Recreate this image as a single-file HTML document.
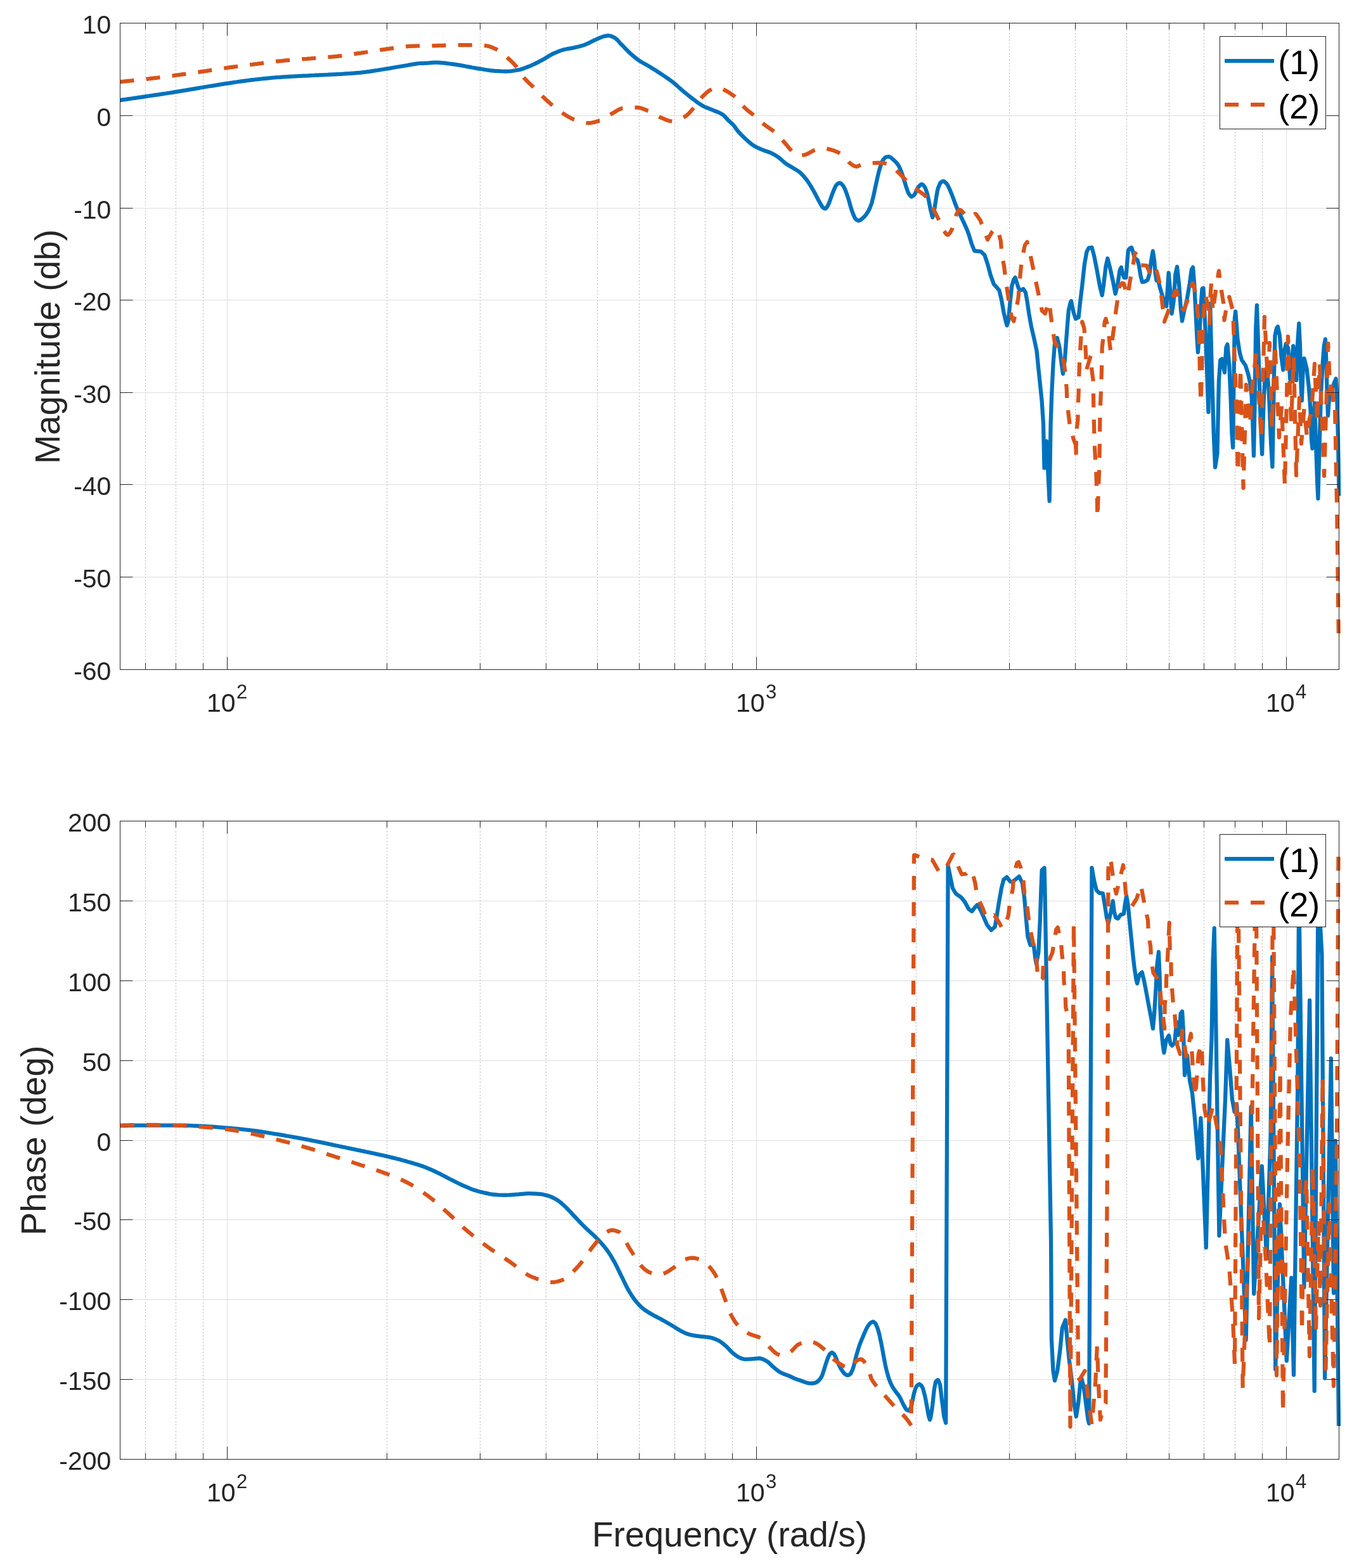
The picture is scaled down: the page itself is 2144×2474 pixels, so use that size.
<!DOCTYPE html>
<html lang="en"><head><meta charset="utf-8"><title>Bode plot</title>
<style>
html,body{margin:0;padding:0;background:#fff}
body{width:2144px;height:2474px;overflow:hidden}
svg{display:block;font-family:"Liberation Sans",Arial,Helvetica,sans-serif}
</style></head><body>
<svg width="2144" height="2474" viewBox="0 0 2144 2474">
<defs>
<clipPath id="c36"><rect x="186.5" y="33.5" width="1929.0" height="1026.0"/></clipPath>
<clipPath id="c1295"><rect x="186.5" y="1292.5" width="1929.0" height="1013.0"/></clipPath>
</defs>
<rect width="2144" height="2474" fill="#fff"/>
<line x1="229.5" y1="36.5" x2="229.5" y2="1056.5" stroke="#b9b9b9" stroke-width="1" stroke-dasharray="2.2 3"/>
<line x1="277.5" y1="36.5" x2="277.5" y2="1056.5" stroke="#b9b9b9" stroke-width="1" stroke-dasharray="2.2 3"/>
<line x1="320.5" y1="36.5" x2="320.5" y2="1056.5" stroke="#b9b9b9" stroke-width="1" stroke-dasharray="2.2 3"/>
<line x1="610.5" y1="36.5" x2="610.5" y2="1056.5" stroke="#b9b9b9" stroke-width="1" stroke-dasharray="2.2 3"/>
<line x1="757.5" y1="36.5" x2="757.5" y2="1056.5" stroke="#b9b9b9" stroke-width="1" stroke-dasharray="2.2 3"/>
<line x1="861.5" y1="36.5" x2="861.5" y2="1056.5" stroke="#b9b9b9" stroke-width="1" stroke-dasharray="2.2 3"/>
<line x1="942.5" y1="36.5" x2="942.5" y2="1056.5" stroke="#b9b9b9" stroke-width="1" stroke-dasharray="2.2 3"/>
<line x1="1008.5" y1="36.5" x2="1008.5" y2="1056.5" stroke="#b9b9b9" stroke-width="1" stroke-dasharray="2.2 3"/>
<line x1="1064.5" y1="36.5" x2="1064.5" y2="1056.5" stroke="#b9b9b9" stroke-width="1" stroke-dasharray="2.2 3"/>
<line x1="1112.5" y1="36.5" x2="1112.5" y2="1056.5" stroke="#b9b9b9" stroke-width="1" stroke-dasharray="2.2 3"/>
<line x1="1155.5" y1="36.5" x2="1155.5" y2="1056.5" stroke="#b9b9b9" stroke-width="1" stroke-dasharray="2.2 3"/>
<line x1="1445.5" y1="36.5" x2="1445.5" y2="1056.5" stroke="#b9b9b9" stroke-width="1" stroke-dasharray="2.2 3"/>
<line x1="1592.5" y1="36.5" x2="1592.5" y2="1056.5" stroke="#b9b9b9" stroke-width="1" stroke-dasharray="2.2 3"/>
<line x1="1696.5" y1="36.5" x2="1696.5" y2="1056.5" stroke="#b9b9b9" stroke-width="1" stroke-dasharray="2.2 3"/>
<line x1="1777.5" y1="36.5" x2="1777.5" y2="1056.5" stroke="#b9b9b9" stroke-width="1" stroke-dasharray="2.2 3"/>
<line x1="1844.5" y1="36.5" x2="1844.5" y2="1056.5" stroke="#b9b9b9" stroke-width="1" stroke-dasharray="2.2 3"/>
<line x1="1899.5" y1="36.5" x2="1899.5" y2="1056.5" stroke="#b9b9b9" stroke-width="1" stroke-dasharray="2.2 3"/>
<line x1="1948.5" y1="36.5" x2="1948.5" y2="1056.5" stroke="#b9b9b9" stroke-width="1" stroke-dasharray="2.2 3"/>
<line x1="1991.5" y1="36.5" x2="1991.5" y2="1056.5" stroke="#b9b9b9" stroke-width="1" stroke-dasharray="2.2 3"/>
<line x1="358.5" y1="36.5" x2="358.5" y2="1056.5" stroke="#dedede" stroke-width="1"/>
<line x1="1193.5" y1="36.5" x2="1193.5" y2="1056.5" stroke="#dedede" stroke-width="1"/>
<line x1="2029.5" y1="36.5" x2="2029.5" y2="1056.5" stroke="#dedede" stroke-width="1"/>
<line x1="189.5" y1="182.5" x2="2112.5" y2="182.5" stroke="#dedede" stroke-width="1"/>
<line x1="189.5" y1="328.5" x2="2112.5" y2="328.5" stroke="#dedede" stroke-width="1"/>
<line x1="189.5" y1="473.5" x2="2112.5" y2="473.5" stroke="#dedede" stroke-width="1"/>
<line x1="189.5" y1="619.5" x2="2112.5" y2="619.5" stroke="#dedede" stroke-width="1"/>
<line x1="189.5" y1="764.5" x2="2112.5" y2="764.5" stroke="#dedede" stroke-width="1"/>
<line x1="189.5" y1="910.5" x2="2112.5" y2="910.5" stroke="#dedede" stroke-width="1"/>
<g clip-path="url(#c36)" fill="none" stroke-linejoin="round">
<path d="M189.5 158.1 L192.5 157.6 L195.5 157.2 L198.5 156.8 L201.5 156.3 L204.5 155.9 L207.5 155.5 L210.5 155 L213.5 154.6 L216.5 154.2 L219.5 153.7 L222.5 153.3 L225.5 152.8 L228.5 152.4 L229.7 152.2 L231.5 151.9 L234.5 151.5 L237.5 151 L240.5 150.6 L243.5 150.2 L246.5 149.7 L249.5 149.3 L252.5 148.8 L255.5 148.4 L258.5 147.9 L261.5 147.5 L264.5 147 L267.5 146.5 L270.5 146.1 L273.5 145.6 L276.5 145.1 L277.7 145 L279.5 144.7 L282.5 144.2 L285.5 143.7 L288.5 143.2 L291.5 142.7 L294.5 142.1 L297.5 141.6 L300.6 141.1 L303.6 140.6 L306.6 140.1 L309.6 139.6 L312.6 139.1 L315.6 138.5 L318.6 138 L320.6 137.7 L321.6 137.5 L324.6 137 L327.6 136.5 L330.6 136 L333.6 135.6 L336.6 135.1 L339.6 134.6 L342.6 134.1 L345.6 133.6 L348.6 133.1 L351.6 132.6 L354.6 132.2 L357.6 131.7 L358.6 131.6 L360.6 131.3 L363.6 130.8 L366.6 130.4 L369.6 129.9 L372.6 129.5 L375.6 129 L378.6 128.6 L381.6 128.2 L384.6 127.8 L387.6 127.4 L390.6 127 L393.6 126.6 L396.6 126.2 L399.6 125.8 L402.6 125.5 L403.2 125.4 L405.6 125.2 L408.6 124.8 L411.6 124.5 L414.6 124.2 L417.6 123.9 L420.6 123.6 L423.6 123.3 L426.6 123 L429.6 122.7 L432.6 122.5 L435.6 122.2 L438.6 122 L441.6 121.8 L444.6 121.5 L445.1 121.5 L447.6 121.3 L450.6 121.2 L453.6 121 L456.6 120.8 L459.6 120.6 L462.6 120.5 L465.6 120.3 L468.7 120.2 L471.7 120 L474.7 119.9 L477.7 119.7 L480.7 119.6 L483.7 119.5 L486.7 119.3 L489.7 119.1 L492.7 119 L495.7 118.9 L498.7 118.7 L501.7 118.6 L504.7 118.4 L507.7 118.3 L510.7 118.2 L513.7 118 L516.7 117.9 L519.7 117.7 L522.7 117.6 L525.7 117.4 L528.7 117.3 L531.7 117.1 L534.7 117 L537.7 116.8 L540.7 116.6 L542.7 116.5 L543.7 116.4 L546.7 116.2 L549.7 116 L552.7 115.8 L555.7 115.6 L558.7 115.4 L561.7 115.1 L564.7 114.8 L567.7 114.6 L570.6 114.3 L573.7 113.9 L576.7 113.6 L579.7 113.2 L582.7 112.8 L585.7 112.3 L588.7 111.9 L591.7 111.4 L594.7 111 L597.7 110.5 L600.7 110 L603.7 109.5 L606.7 109 L609.7 108.5 L610.5 108.4 L612.7 108.1 L615.7 107.6 L618.7 107 L621.7 106.5 L624.7 106 L627.7 105.5 L630.7 105 L633.7 104.5 L636.7 104 L639.8 103.5 L640.4 103.4 L642.8 103 L645.8 102.4 L648.8 101.9 L651.8 101.3 L654.8 100.8 L657.8 100.3 L660.8 100 L663.8 99.8 L665.5 99.8 L666.8 99.8 L668.4 99.8 L669.8 99.7 L672.8 99.6 L675.8 99.4 L678.8 99.1 L681.8 98.9 L684.8 98.7 L687.8 98.6 L690.8 98.7 L693.8 98.8 L696.8 99.1 L699.8 99.4 L702.8 99.7 L705.8 100.1 L708.8 100.5 L711.8 100.9 L714.8 101.3 L715.8 101.4 L717.8 101.7 L720.8 102.1 L723.8 102.6 L726.8 103.1 L729.8 103.6 L732.8 104.2 L735.8 104.8 L738.8 105.3 L741.8 105.9 L744.8 106.5 L747.8 107 L750.8 107.6 L753.8 108.1 L756.8 108.6 L757.7 108.7 L759.8 109 L762.8 109.5 L765.8 110 L768.8 110.5 L771.8 110.9 L774.8 111.3 L777.8 111.6 L780.8 111.9 L782.8 112 L783.8 112.1 L786.8 112.2 L789.8 112.4 L792.8 112.5 L795.8 112.6 L798.8 112.6 L799.5 112.6 L801.8 112.5 L804.8 112.3 L807.8 112 L810.9 111.5 L813.9 111 L816.2 110.6 L816.9 110.5 L819.9 109.9 L822.9 109 L825.9 108 L828.9 106.9 L831.9 105.8 L833 105.3 L834.9 104.6 L837.9 103.4 L840.9 102 L843.9 100.6 L846.9 99.1 L849.9 97.6 L852.9 96 L855.3 94.7 L855.9 94.4 L858.9 92.7 L861.9 90.9 L864.9 89 L867.9 87.2 L870.9 85.5 L872.1 85 L873.9 84.1 L876.9 82.8 L879.9 81.6 L882.9 80.4 L885.9 79.4 L888.8 78.5 L891.9 77.8 L894.9 77.2 L897.9 76.7 L900.9 76.1 L903.9 75.6 L905.5 75.2 L906.9 74.9 L909.9 74.2 L912.9 73.5 L915.9 72.7 L918.9 71.8 L921.9 70.9 L922.3 70.7 L924.9 69.7 L927.9 68.4 L930.9 66.9 L933.9 65.3 L936.9 63.9 L939 62.9 L939.9 62.5 L942.9 61.2 L945.9 59.8 L948.9 58.6 L951.9 57.6 L953 57.3 L954.9 56.9 L957.9 56.4 L959.9 56.2 L960.9 56.3 L963.9 57 L966.9 58.2 L969.7 59.6 L972.9 62 L975.9 65.2 L978.9 68.7 L980.9 70.7 L982 71.8 L985 74.9 L988 78 L991 81 L994 83.9 L994.8 84.7 L997 86.6 L1000 89.1 L1003 91.6 L1006 93.9 L1008.8 95.8 L1012 97.9 L1015 99.6 L1018 101.2 L1021 102.9 L1022.7 103.9 L1024 104.7 L1027 106.5 L1030 108.4 L1033 110.2 L1036 112.1 L1039 114.1 L1042 116 L1045 118 L1048 120 L1051 122.1 L1054 124.1 L1057 126.3 L1060 128.5 L1061.8 129.9 L1063 130.8 L1066 133.4 L1069 136 L1072 138.7 L1075 141.4 L1078 144 L1078.5 144.4 L1081 146.5 L1084 148.9 L1087 151.4 L1090 153.8 L1093 156.1 L1095.3 157.8 L1096 158.3 L1099 160.6 L1102 162.7 L1105 164.8 L1108 166.6 L1109.2 167.3 L1111 168.2 L1114 169.5 L1117 170.7 L1120 171.9 L1123 173 L1126 174.3 L1129 175.5 L1132 176.7 L1135 178 L1138 179.6 L1139.9 180.7 L1141 181.5 L1144 184.3 L1147 187.6 L1150 190.8 L1151.1 191.8 L1153.1 193.6 L1156.1 196.3 L1156.7 197 L1159.1 199.9 L1162.1 204.2 L1163.4 205.9 L1165.1 207.8 L1168.1 211.1 L1171.1 214.3 L1174.1 217.2 L1176.8 219.7 L1180.1 222.7 L1183.1 225.3 L1186.1 227.7 L1189.1 229.8 L1190.2 230.4 L1192.1 231.5 L1195.1 233 L1198.1 234.4 L1201.1 235.7 L1203.6 236.7 L1204.1 236.9 L1207.1 238 L1210.1 239 L1213.1 240 L1216.1 241.2 L1217 241.6 L1219.1 242.7 L1222.1 244.3 L1225.1 246.2 L1228.1 248.3 L1231.1 250.6 L1234.1 253.3 L1237.1 256 L1239.3 257.7 L1240.1 258.3 L1243.1 260.2 L1246.1 262 L1249.1 263.8 L1250.4 264.6 L1252.1 265.6 L1255.1 267.4 L1258.1 269.2 L1261.1 271.3 L1261.6 271.7 L1264.1 274 L1267.1 277.1 L1270.1 280.7 L1272.8 284 L1273.1 284.5 L1276.1 288.8 L1279.1 293.6 L1282.1 298.8 L1283.9 301.9 L1285.1 304 L1288.1 309.8 L1291.1 315.5 L1292.9 318.6 L1294.1 320.9 L1297.1 326.1 L1298.4 327.5 L1300.1 328.8 L1301.8 329.3 L1303.1 328.6 L1306.1 324.4 L1309.1 317.3 L1312.1 308.4 L1312.9 306.3 L1315.1 300.8 L1318.1 294 L1319.6 291.8 L1321.2 290.3 L1324.2 288.5 L1324.6 288.5 L1327.2 289.7 L1330.2 293.2 L1330.8 294.1 L1333.2 298.6 L1336.2 306.9 L1337.5 310.8 L1339.2 316.1 L1342.2 326.8 L1344.2 333.1 L1345.2 335.7 L1348.2 343 L1349.8 345.4 L1351.2 346.7 L1354.2 348.3 L1357.2 347.2 L1360.2 344.9 L1360.9 344.3 L1363.2 342.2 L1366.2 338.7 L1369.2 334.3 L1369.9 333.1 L1372.2 328.5 L1375.2 320.5 L1378.2 308.6 L1381 295.2 L1384.2 280.6 L1386.6 270.6 L1387.2 268.5 L1390.2 258.5 L1392.2 253.9 L1393.2 252.3 L1396.2 248.7 L1397.8 247.9 L1399.2 247.5 L1402.2 247.2 L1405.2 248.4 L1408.2 251 L1408.9 251.7 L1411.2 253.6 L1414.2 256.7 L1417.2 260.7 L1417.9 261.7 L1420.2 266.5 L1423.2 274.5 L1426.2 283.8 L1429 292.9 L1432.2 302.5 L1433.5 305.2 L1435.2 308 L1437.9 310.4 L1441.2 308.6 L1442.4 307.5 L1444.2 304.4 L1447.2 297.5 L1448 296.3 L1450.2 293.4 L1453.2 290.9 L1454 290.7 L1456.2 291.7 L1459.2 295.2 L1462.2 303.4 L1463.6 308.6 L1465.2 316.1 L1468.1 330.9 L1471.2 343.1 L1474.2 329.6 L1474.8 326.4 L1477.2 310.4 L1479.2 299.6 L1480.2 296.2 L1483.2 289 L1483.7 288.5 L1486.2 286.4 L1488.2 285.8 L1489.2 286 L1492.3 288.6 L1493.8 290.3 L1495.3 292.5 L1498.3 298.9 L1500.4 304.1 L1501.3 306 L1504.3 314 L1507.3 322.2 L1509.4 327.5 L1510.3 329.6 L1513.3 336 L1516.3 342.2 L1518.3 346.5 L1519.3 348.6 L1522.3 354.9 L1525.3 361.7 L1527.2 366.6 L1528.3 369.6 L1531.3 379.7 L1532.8 384.5 L1534.3 388.4 L1537.3 395.6 L1540 396.2 L1547.3 396.8 L1553.3 402.2 L1558.1 416.7 L1563 434.9 L1567.8 448.2 L1576.3 457.8 L1579.9 472.4 L1583.5 492.9 L1586.6 506.2 L1588.6 513.5 L1590.8 506.2 L1593.2 480.8 L1596.2 451.8 L1599.3 440.9 L1601.7 437.9 L1604.1 445.8 L1607.1 455.4 L1610.1 457.8 L1614.4 456 L1618 461.5 L1620.4 474.8 L1623.4 495.3 L1627.1 515.9 L1631.9 536.4 L1635.5 553.4 L1638.8 586.2 L1643.6 632.2 L1646 668.4 L1647.5 738.5 L1650.9 696.2 L1655.7 790.5 L1657.6 668.4 L1659.3 620.1 L1661.7 571.7 L1664.2 540.3 L1667.8 533.1 L1671.4 547.6 L1675 576.6 L1677 589.9 L1679.9 566.9 L1683.5 518.6 L1685.9 489.5 L1689.1 476.3 L1690 475.1 L1693.5 492.5 L1697 503 L1701.6 500.7 L1703.9 478.6 L1707.4 449.6 L1710.9 417.1 L1714.4 397.4 L1717.8 391 L1722.5 390.4 L1726 403.2 L1730.6 426.4 L1735.2 451.9 L1738.7 465.9 L1741.1 449.6 L1744.5 420.6 L1747.4 407.8 L1751.5 424.1 L1756.1 445 L1759.6 463.5 L1763.1 449.6 L1766.6 426.4 L1768.9 421.8 L1771.2 432.2 L1773.5 438 L1776.4 438 L1778.2 414.8 L1779.9 395.1 L1782.8 391.6 L1785.1 390.4 L1787.5 397.4 L1789.8 406.7 L1794.4 410.2 L1796.7 418.3 L1799.6 435.7 L1802 445 L1806 444.4 L1810.7 441.5 L1813.6 431.1 L1816.5 409 L1818.8 396.2 L1821.1 411.3 L1822.8 432.2 L1824.6 442.7 L1827.5 443.8 L1830.4 455.4 L1835 470.5 L1838.5 482.1 L1840.2 483.3 L1842 455.4 L1843.7 430.5 L1846.4 461.5 L1848.6 494.9 L1851.5 476 L1854.4 432.5 L1857 420.9 L1860.2 449.9 L1863.1 490.5 L1865 506.5 L1868.2 490.5 L1872.5 473.1 L1876.9 447 L1879.8 425.3 L1882 421.6 L1884.1 447 L1886.3 490.5 L1888.5 534.1 L1889.9 555.8 L1892.8 519.6 L1895 476 L1896.5 455.7 L1898.5 454.5 L1902.3 535.1 L1906.4 650.1 L1907.8 551.5 L1909.2 479.2 L1911.4 568 L1914.7 683 L1917.1 737.3 L1920.4 715.9 L1922.9 600.8 L1925.3 568 L1927.8 566.3 L1931.9 587.7 L1934.4 548.2 L1936.4 543.3 L1939.3 576.2 L1941.8 633.7 L1943.4 683 L1945.1 706 L1946.7 584.4 L1947.9 502.2 L1949.2 491.5 L1952.5 535.1 L1955.8 556.4 L1959 568 L1964.8 576.2 L1968.9 589.3 L1972.2 604.1 L1974.7 625.5 L1976.3 666.6 L1978 719.2 L1979.6 633.7 L1981.2 518.6 L1982.9 481.6 L1985.3 551.5 L1987.8 633.7 L1989.5 683 L1991.1 716.7 L1993.6 633.7 L1996 592.6 L1998.5 580.3 L2001.8 617.3 L2005.1 699.5 L2007.4 736.5 L2009.9 595.1 L2011.5 529.3 L2014 517.8 L2015.9 515.3 L2018.9 529.3 L2021.4 562.2 L2024.3 583.6 L2026.3 554 L2028.8 542.5 L2032.1 549 L2035.3 598.4 L2040.3 545.8 L2045.2 600 L2046.9 545.8 L2049.3 510.4 L2051 545.8 L2052.6 611.5 L2053.8 632.1 L2055.9 578.6 L2057.5 565.5 L2061.6 581.9 L2064.9 611.5 L2067.4 644.4 L2069 693.7 L2070.4 707.7 L2074 636.2 L2076.4 710.1 L2078.1 759.5 L2079.4 786.6 L2081.4 710.1 L2083.8 628 L2086.3 578.6 L2088.8 545.8 L2090.9 535.1 L2092.1 562.2 L2093.4 611.5 L2095 655.9 L2097 628 L2100.3 611.5 L2102.7 609.9 L2105.2 603.3 L2107.7 597.5 L2109.3 628 L2111 693.7 L2111.8 743 L2112.6 782.5" stroke="#0072bd" stroke-width="6.25"/>
<path d="M189.5 129.1 L192.5 128.8 L195.5 128.5 L198.5 128.2 L201.5 127.9 L204.5 127.6 L207.5 127.3 L210.5 126.9 L213.5 126.6 L216.5 126.3 L219.5 126 L222.5 125.6 L225.5 125.3 L228.5 125 L231.5 124.6 L234.5 124.3 L237.5 123.9 L240.5 123.6 L241.4 123.5 L243.5 123.2 L246.5 122.8 L249.5 122.5 L252.5 122.1 L255.5 121.7 L258.5 121.3 L261.6 120.9 L264.6 120.5 L267.6 120.1 L270.6 119.7 L273.6 119.3 L276.6 118.9 L279.6 118.5 L281.8 118.2 L282.6 118.1 L285.6 117.7 L288.6 117.2 L291.6 116.8 L294.6 116.4 L297.6 116 L300.6 115.5 L303.6 115.1 L306.6 114.7 L309.6 114.2 L312.6 113.8 L315.6 113.4 L318.6 112.9 L321.6 112.5 L322.9 112.3 L324.6 112.1 L327.6 111.6 L330.6 111.2 L333.6 110.7 L336.6 110.3 L339.6 109.8 L342.6 109.3 L345.6 108.9 L348.6 108.4 L351.6 108 L354.6 107.5 L357.6 107.1 L360.6 106.7 L363.6 106.2 L364.2 106.2 L366.6 105.8 L369.6 105.4 L372.7 105 L375.7 104.6 L378.7 104.2 L381.7 103.8 L384.7 103.4 L387.7 103.1 L390.7 102.7 L393.7 102.3 L396.7 101.9 L399.7 101.5 L402.7 101.1 L404.9 100.9 L405.7 100.8 L408.7 100.4 L411.7 100 L414.7 99.6 L417.7 99.2 L420.7 98.8 L423.7 98.4 L426.7 98 L429.7 97.7 L432.7 97.3 L435.7 96.9 L438.7 96.6 L441.7 96.3 L444.7 96 L445.9 95.8 L447.7 95.7 L450.7 95.4 L453.7 95.1 L456.7 94.9 L459.7 94.6 L462.7 94.4 L465.7 94.1 L468.7 93.9 L471.7 93.7 L474.7 93.5 L477.7 93.2 L480.7 93 L483.8 92.8 L486.8 92.5 L486.9 92.5 L489.8 92.3 L492.8 92 L495.8 91.8 L498.8 91.6 L501.8 91.4 L504.8 91.1 L507.8 90.9 L510.8 90.7 L513.8 90.4 L516.8 90.2 L519.8 89.9 L522.8 89.7 L525.8 89.4 L528.2 89.2 L528.8 89.1 L531.8 88.8 L534.8 88.4 L537.8 88.1 L540.8 87.7 L543.8 87.3 L546.8 86.9 L549.8 86.4 L552.8 86 L555.8 85.6 L558.8 85.1 L561.8 84.7 L564.8 84.2 L567.8 83.8 L569.5 83.6 L570.8 83.4 L573.8 82.9 L576.8 82.5 L579.8 82 L582.8 81.5 L585.8 81.1 L588.8 80.6 L591.8 80.1 L594.9 79.6 L597.9 79.2 L600.9 78.7 L603.9 78.3 L606.9 77.9 L609.9 77.4 L610 77.4 L612.9 77 L615.9 76.6 L618.9 76.2 L621.9 75.8 L624.9 75.3 L627.9 74.9 L630.9 74.5 L633.9 74.1 L636.9 73.8 L639.9 73.5 L642.9 73.2 L645.9 72.9 L648.9 72.8 L651 72.7 L651.9 72.7 L654.9 72.6 L657.9 72.5 L660.9 72.4 L663.9 72.3 L666.9 72.3 L669.9 72.2 L672.9 72.2 L675.9 72.1 L678.9 72.1 L681.9 72 L684.9 72 L687.9 72 L690.9 71.9 L693.5 71.9 L693.9 71.8 L696.9 71.8 L699.9 71.7 L702.9 71.6 L706 71.6 L709 71.5 L712 71.4 L715 71.3 L718 71.2 L721 71.2 L724 71.1 L727 71.1 L730 71 L733 71 L735.3 71 L736 71 L739 71 L742 71.1 L745 71.1 L748 71.2 L751 71.3 L754 71.4 L757 71.6 L760 71.7 L763 71.9 L766 72.1 L766 72.1 L769 72.5 L772 73.3 L775 74.3 L778 75.5 L781 76.8 L784 78.2 L784.2 78.3 L787 79.9 L790 82 L793 84.4 L796 87 L799 89.7 L800.9 91.4 L802 92.4 L805 95.1 L808 98 L811 101.1 L814 104.4 L814.9 105.3 L817.1 108.2 L820.1 112.7 L823.1 117.4 L826.1 121.8 L827.4 123.5 L829.1 125.4 L832.1 128.5 L835.1 131.4 L838.1 134.2 L841.1 137.1 L841.4 137.4 L844.1 140.2 L847.1 143.2 L850.1 146.2 L853.1 149.2 L856.1 152.2 L856.7 152.8 L859.1 155 L862.1 157.9 L865.1 160.6 L868.1 163.3 L871.1 165.9 L872.1 166.7 L874.1 168.4 L877.1 170.8 L880.1 173.2 L883.1 175.4 L886.1 177.5 L888.8 179.3 L889.1 179.5 L892.1 181.4 L895.1 183.3 L898.1 185 L901.1 186.6 L904.1 188 L905.5 188.5 L907.1 189 L910.1 190.1 L913.1 191.1 L916.1 192.1 L919.1 192.9 L922.1 193.5 L925.1 193.9 L927.9 194.1 L928.2 194.1 L931.2 193.9 L934.2 193.5 L937.2 192.9 L940.2 192.1 L943.2 191.3 L946 190.4 L946.2 190.4 L949.2 189.2 L952.2 187.7 L955.2 185.8 L958.2 183.8 L961.2 181.9 L964.2 180 L965.5 179.3 L967.2 178.3 L970.2 176.5 L973.2 174.6 L976.2 172.9 L979.2 171.6 L982.2 170.9 L982.3 170.9 L985.2 170.6 L988.2 170.3 L991.2 170 L994.2 169.8 L997.2 169.7 L1000.2 169.6 L1003.2 169.5 L1004.6 169.5 L1006.2 169.6 L1009.2 170.1 L1012.2 170.9 L1015.2 172 L1018.2 173.2 L1021.2 174.5 L1022.7 175.1 L1024.2 175.7 L1027.2 177.2 L1030.2 178.9 L1033.2 180.7 L1036.2 182.4 L1039.3 184 L1042.3 185.4 L1042.3 185.4 L1045.3 186.7 L1048.3 188 L1051.3 189.2 L1054.3 190.3 L1057.3 191 L1060.3 191.3 L1060.4 191.3 L1063.3 191.1 L1066.3 190.4 L1069.3 189.5 L1072.3 188.2 L1075.3 186.8 L1078.3 185.2 L1081.3 183.5 L1081.3 183.5 L1084.3 181.3 L1087.3 178.4 L1090.3 175 L1093.3 171.5 L1093.9 170.9 L1096.3 168 L1099.3 163.9 L1102.3 159.8 L1105.3 155.8 L1108.3 152.3 L1109.2 151.4 L1111.3 149.4 L1114.3 146.6 L1117.3 144.1 L1120.3 142.1 L1123.2 140.8 L1123.3 140.7 L1126.3 139.7 L1129.3 138.9 L1132.3 138.4 L1134.3 138.3 L1135.3 138.3 L1138.3 139.3 L1141.3 140.9 L1144.1 142.4 L1144.3 142.6 L1147.3 144.3 L1150.4 146.1 L1153.4 148.2 L1156.4 150.3 L1156.7 150.5 L1158.9 152.3 L1159.4 152.7 L1162.4 155.8 L1165.4 159.2 L1168.4 162.9 L1171.4 166.4 L1174.4 169.6 L1174.6 169.7 L1177.4 172.3 L1180.4 174.8 L1183.4 177.2 L1186.4 179.6 L1189.4 182 L1191.3 183.6 L1192.4 184.5 L1195.4 187.2 L1198.4 190 L1201.4 192.7 L1204.4 195.4 L1205.8 196.5 L1207.4 197.8 L1210.4 199.9 L1213.4 202 L1216.4 204.1 L1219.4 206.2 L1222.4 208.7 L1222.5 208.8 L1225.4 211.5 L1228.4 214.6 L1231.4 217.9 L1234.4 221.3 L1237.1 224.2 L1237.4 224.6 L1240.4 228.1 L1243.4 231.8 L1246.4 235.4 L1249.4 238.5 L1250.4 239.4 L1252.4 241.2 L1255.4 243.9 L1258.5 245.5 L1259.4 245.6 L1261.5 245.5 L1264.5 245.2 L1267.5 244.7 L1269.4 244.3 L1270.5 244 L1273.5 242.9 L1276.5 241.4 L1279.5 239.7 L1282.5 238 L1285.5 236.6 L1288.4 235.6 L1288.5 235.6 L1291.5 234.8 L1294.5 234.2 L1297.5 233.8 L1298.4 233.8 L1300.5 233.9 L1303.5 234.4 L1306.5 235.1 L1308.5 235.6 L1309.5 235.8 L1312.5 236.7 L1315.5 237.6 L1318.5 238.8 L1321.5 240.1 L1324.5 241.5 L1327.5 243.2 L1328.6 243.8 L1330.5 245.4 L1333.5 248.8 L1336.5 252.6 L1339.5 256.2 L1342 258.3 L1342.5 258.7 L1345.5 260.8 L1348.5 262.3 L1350.9 262.8 L1351.5 262.8 L1354.5 261.8 L1357.5 260.3 L1360.5 259.1 L1360.9 259 L1363.5 258.6 L1366.5 258.2 L1369.6 257.9 L1372.6 257.7 L1375.6 257.4 L1378.6 257.2 L1378.8 257.2 L1381.6 257.1 L1384.6 256.9 L1387.6 256.8 L1388.8 256.8 L1390.6 256.8 L1393.6 257.2 L1396.6 257.8 L1398.9 258.3 L1399.6 258.5 L1402.6 259.9 L1405.6 261.9 L1408.6 264.3 L1411.6 267 L1414.6 269.7 L1415.6 270.6 L1417.6 272.4 L1420.6 275.4 L1423.6 278.5 L1426.6 281.7 L1429 284 L1429.6 284.6 L1432.6 287.3 L1435.6 290 L1438.6 292.5 L1441.6 295.1 L1444.6 297.6 L1445.8 298.5 L1447.6 300 L1450.6 302.1 L1453.6 304.2 L1456.6 306.4 L1459.6 309 L1461.4 310.8 L1462.6 312.3 L1465.6 316.9 L1468.6 322.4 L1471.4 327.5 L1471.6 327.9 L1474.6 333.7 L1477.6 339.8 L1480.4 345.4 L1480.7 346 L1483.7 352.9 L1486.7 359.7 L1489.3 364.4 L1489.7 364.9 L1492.7 369.2 L1494.9 370.6 L1495.7 370.5 L1498.7 367.4 L1501.7 362 L1502.7 359.9 L1504.7 353.4 L1507.7 341.4 L1508.3 339.8 L1510.7 334.5 L1513.7 330.9 L1513.8 330.9 L1516.7 332.3 L1519.7 335.5 L1521.7 337.6 L1522.7 338.7 L1525.7 342.4 L1527.2 343.2 L1528.7 343.1 L1531.7 342.1 L1538.5 337.3 L1540 338 L1546.7 347.8 L1553 365 L1558.1 378 L1565 366 L1570.2 359.9 L1575 366 L1578.7 379.3 L1580.5 401 L1584.1 420.4 L1586.6 442.1 L1589.6 461.5 L1592.6 483.2 L1596.2 501.4 L1599.3 506.8 L1602.9 489.3 L1606.5 470 L1608.3 448.2 L1610.1 427.6 L1612.6 407.1 L1616.8 387.1 L1620.4 381.7 L1624 395.6 L1628.3 415.5 L1632.5 436.1 L1636.7 456 L1641 476.6 L1644 490.5 L1648.8 494.7 L1651.5 486 L1653.9 476.6 L1655.5 478.4 L1657.9 499 L1660.9 519.5 L1663.9 540 L1673.6 554.6 L1678.7 573 L1681.1 593.5 L1682.8 614 L1683.5 635.8 L1685.9 655.1 L1688.3 675.7 L1694.4 695 L1697.2 702.3 L1697.5 722.8 L1698 681.7 L1700.4 662.4 L1700.8 640.6 L1701.6 620.1 L1702.2 599.3 L1702.8 578.4 L1703.9 558.7 L1705.1 537.2 L1707.4 507.6 L1710.5 518.3 L1712 540.1 L1713.2 561 L1713.8 584.2 L1720.7 561.6 L1721.1 561 L1722.2 581.4 L1724.6 600.7 L1725 622.5 L1725.3 643 L1725.8 663.6 L1726.3 684.1 L1727 705.9 L1728.2 726.5 L1729.4 747 L1730.3 774.8 L1730.9 788 L1731.4 816 L1734.3 736.1 L1735 692.6 L1735.5 651.5 L1737.2 610.4 L1738.4 569.3 L1738.7 548.2 L1741 528.5 L1742.8 507.6 L1744.5 503 L1748.6 518.6 L1750.3 539 L1752.1 554 L1755 534.3 L1757.9 513.4 L1760.2 493.1 L1763.1 472.8 L1766 452.5 L1770.1 446.7 L1773 447.3 L1777.6 464.7 L1779 466.5 L1782.8 442.7 L1786.9 422.9 L1790.5 399 L1791.5 399.7 L1799.1 418.3 L1809 419 L1813.6 429.9 L1818.5 422 L1820 419 L1822.8 420.6 L1828.1 440.3 L1831.5 461.2 L1833.9 480.9 L1836.8 507.6 L1842 494 L1846.6 481 L1853.7 460.1 L1856 458.5 L1858 467.3 L1864.5 486.2 L1867.5 489 L1871.1 480.4 L1877.6 461.5 L1881.5 447 L1882.7 449.2 L1887.8 468.8 L1889.2 490.5 L1891.4 509.4 L1892 540 L1893 590 L1894.5 635 L1896 580 L1897.4 525 L1900.7 466 L1901.5 464.4 L1906.4 485.8 L1908.5 510 L1909.7 466 L1911 446 L1913.5 492 L1917.9 458.6 L1922.9 427.4 L1927 458.6 L1930.3 479.2 L1931.5 505 L1934.4 487.4 L1939.3 468.5 L1945.1 490.7 L1945.9 511.2 L1947.2 553 L1948.9 593 L1950 635 L1951.6 676 L1952.5 737 L1953 745 L1957 581 L1961.5 770 L1966 607 L1972 670 L1976 605 L1982 557 L1990 692 L1995 500 L2000 600 L2003 541 L2006.6 676 L2011.5 544 L2018 690 L2022 640 L2027 766 L2032 531 L2037 665 L2041 564 L2045 750 L2050 628 L2053 700 L2057.5 645 L2062 690 L2066 660 L2069 651 L2074 574 L2078 667 L2082 574 L2089 751 L2095.3 542 L2098.6 620 L2101 600 L2104 643 L2106 640 L2107.7 727 L2109.3 809 L2110.5 900 L2112 1017" stroke="#d95319" stroke-width="6.25" stroke-dasharray="22.1 19.2"/>
</g>
<path d="M229.5 36.5v10M229.5 1056.5v-10M277.5 36.5v10M277.5 1056.5v-10M320.5 36.5v10M320.5 1056.5v-10M610.5 36.5v10M610.5 1056.5v-10M757.5 36.5v10M757.5 1056.5v-10M861.5 36.5v10M861.5 1056.5v-10M942.5 36.5v10M942.5 1056.5v-10M1008.5 36.5v10M1008.5 1056.5v-10M1064.5 36.5v10M1064.5 1056.5v-10M1112.5 36.5v10M1112.5 1056.5v-10M1155.5 36.5v10M1155.5 1056.5v-10M1445.5 36.5v10M1445.5 1056.5v-10M1592.5 36.5v10M1592.5 1056.5v-10M1696.5 36.5v10M1696.5 1056.5v-10M1777.5 36.5v10M1777.5 1056.5v-10M1844.5 36.5v10M1844.5 1056.5v-10M1899.5 36.5v10M1899.5 1056.5v-10M1948.5 36.5v10M1948.5 1056.5v-10M1991.5 36.5v10M1991.5 1056.5v-10M358.5 36.5v20M358.5 1056.5v-20M1193.5 36.5v20M1193.5 1056.5v-20M2029.5 36.5v20M2029.5 1056.5v-20M189.5 182.5h20M2112.5 182.5h-20M189.5 328.5h20M2112.5 328.5h-20M189.5 473.5h20M2112.5 473.5h-20M189.5 619.5h20M2112.5 619.5h-20M189.5 764.5h20M2112.5 764.5h-20M189.5 910.5h20M2112.5 910.5h-20" stroke="#262626" stroke-width="1" fill="none"/>
<rect x="189.5" y="36.5" width="1923" height="1020" fill="none" stroke="#262626" stroke-width="1"/>
<text x="175.4" y="52.5" text-anchor="end" font-size="41" fill="#262626">10</text>
<text x="175.4" y="198.5" text-anchor="end" font-size="41" fill="#262626">0</text>
<text x="175.4" y="344.5" text-anchor="end" font-size="41" fill="#262626">-10</text>
<text x="175.4" y="489.5" text-anchor="end" font-size="41" fill="#262626">-20</text>
<text x="175.4" y="635.5" text-anchor="end" font-size="41" fill="#262626">-30</text>
<text x="175.4" y="780.5" text-anchor="end" font-size="41" fill="#262626">-40</text>
<text x="175.4" y="926.5" text-anchor="end" font-size="41" fill="#262626">-50</text>
<text x="175.4" y="1072.5" text-anchor="end" font-size="41" fill="#262626">-60</text>
<text x="326" y="1122.8" font-size="41" fill="#262626">10<tspan dy="-21" dx="1.5" font-size="31">2</tspan></text>
<text x="1161" y="1122.8" font-size="41" fill="#262626">10<tspan dy="-21" dx="1.5" font-size="31">3</tspan></text>
<text x="1997" y="1122.8" font-size="41" fill="#262626">10<tspan dy="-21" dx="1.5" font-size="31">4</tspan></text>
<text transform="translate(94.3 547) rotate(-90)" text-anchor="middle" font-size="55" fill="#262626">Magnitude (db)</text>
<rect x="1924.5" y="57.5" width="167" height="146" fill="#fff" stroke="#262626" stroke-width="1"/>
<line x1="1932.1" y1="96" x2="2010.1" y2="96" stroke="#0072bd" stroke-width="6.25"/>
<path d="M1932.1 165h22M1973.1 165h22" stroke="#d95319" stroke-width="6.25"/>
<text x="2016.2" y="117.2" font-size="54" fill="#000">(1)</text>
<text x="2016.2" y="186.5" font-size="54" fill="#000">(2)</text>
<line x1="229.5" y1="1295.5" x2="229.5" y2="2302.5" stroke="#b9b9b9" stroke-width="1" stroke-dasharray="2.2 3"/>
<line x1="277.5" y1="1295.5" x2="277.5" y2="2302.5" stroke="#b9b9b9" stroke-width="1" stroke-dasharray="2.2 3"/>
<line x1="320.5" y1="1295.5" x2="320.5" y2="2302.5" stroke="#b9b9b9" stroke-width="1" stroke-dasharray="2.2 3"/>
<line x1="610.5" y1="1295.5" x2="610.5" y2="2302.5" stroke="#b9b9b9" stroke-width="1" stroke-dasharray="2.2 3"/>
<line x1="757.5" y1="1295.5" x2="757.5" y2="2302.5" stroke="#b9b9b9" stroke-width="1" stroke-dasharray="2.2 3"/>
<line x1="861.5" y1="1295.5" x2="861.5" y2="2302.5" stroke="#b9b9b9" stroke-width="1" stroke-dasharray="2.2 3"/>
<line x1="942.5" y1="1295.5" x2="942.5" y2="2302.5" stroke="#b9b9b9" stroke-width="1" stroke-dasharray="2.2 3"/>
<line x1="1008.5" y1="1295.5" x2="1008.5" y2="2302.5" stroke="#b9b9b9" stroke-width="1" stroke-dasharray="2.2 3"/>
<line x1="1064.5" y1="1295.5" x2="1064.5" y2="2302.5" stroke="#b9b9b9" stroke-width="1" stroke-dasharray="2.2 3"/>
<line x1="1112.5" y1="1295.5" x2="1112.5" y2="2302.5" stroke="#b9b9b9" stroke-width="1" stroke-dasharray="2.2 3"/>
<line x1="1155.5" y1="1295.5" x2="1155.5" y2="2302.5" stroke="#b9b9b9" stroke-width="1" stroke-dasharray="2.2 3"/>
<line x1="1445.5" y1="1295.5" x2="1445.5" y2="2302.5" stroke="#b9b9b9" stroke-width="1" stroke-dasharray="2.2 3"/>
<line x1="1592.5" y1="1295.5" x2="1592.5" y2="2302.5" stroke="#b9b9b9" stroke-width="1" stroke-dasharray="2.2 3"/>
<line x1="1696.5" y1="1295.5" x2="1696.5" y2="2302.5" stroke="#b9b9b9" stroke-width="1" stroke-dasharray="2.2 3"/>
<line x1="1777.5" y1="1295.5" x2="1777.5" y2="2302.5" stroke="#b9b9b9" stroke-width="1" stroke-dasharray="2.2 3"/>
<line x1="1844.5" y1="1295.5" x2="1844.5" y2="2302.5" stroke="#b9b9b9" stroke-width="1" stroke-dasharray="2.2 3"/>
<line x1="1899.5" y1="1295.5" x2="1899.5" y2="2302.5" stroke="#b9b9b9" stroke-width="1" stroke-dasharray="2.2 3"/>
<line x1="1948.5" y1="1295.5" x2="1948.5" y2="2302.5" stroke="#b9b9b9" stroke-width="1" stroke-dasharray="2.2 3"/>
<line x1="1991.5" y1="1295.5" x2="1991.5" y2="2302.5" stroke="#b9b9b9" stroke-width="1" stroke-dasharray="2.2 3"/>
<line x1="358.5" y1="1295.5" x2="358.5" y2="2302.5" stroke="#dedede" stroke-width="1"/>
<line x1="1193.5" y1="1295.5" x2="1193.5" y2="2302.5" stroke="#dedede" stroke-width="1"/>
<line x1="2029.5" y1="1295.5" x2="2029.5" y2="2302.5" stroke="#dedede" stroke-width="1"/>
<line x1="189.5" y1="1421.5" x2="2112.5" y2="1421.5" stroke="#dedede" stroke-width="1"/>
<line x1="189.5" y1="1547.5" x2="2112.5" y2="1547.5" stroke="#dedede" stroke-width="1"/>
<line x1="189.5" y1="1673.5" x2="2112.5" y2="1673.5" stroke="#dedede" stroke-width="1"/>
<line x1="189.5" y1="1799.5" x2="2112.5" y2="1799.5" stroke="#dedede" stroke-width="1"/>
<line x1="189.5" y1="1924.5" x2="2112.5" y2="1924.5" stroke="#dedede" stroke-width="1"/>
<line x1="189.5" y1="2050.5" x2="2112.5" y2="2050.5" stroke="#dedede" stroke-width="1"/>
<line x1="189.5" y1="2176.5" x2="2112.5" y2="2176.5" stroke="#dedede" stroke-width="1"/>
<g clip-path="url(#c1295)" fill="none" stroke-linejoin="round">
<path d="M190 1776.2 L193 1776.2 L196 1776.1 L199 1776 L202 1776 L205 1775.9 L208 1775.8 L211 1775.8 L214 1775.7 L217 1775.7 L220 1775.6 L223 1775.6 L226 1775.6 L229 1775.6 L230.2 1775.6 L232 1775.6 L235 1775.6 L238 1775.6 L241 1775.6 L244 1775.6 L247 1775.6 L250.1 1775.6 L253.1 1775.6 L256.1 1775.6 L259.1 1775.6 L262.1 1775.6 L265.1 1775.6 L268.1 1775.6 L271.1 1775.6 L274.1 1775.6 L277.1 1775.6 L280.1 1775.6 L280.4 1775.6 L283.1 1775.6 L286.1 1775.6 L289.1 1775.7 L292.1 1775.7 L295.1 1775.8 L298.1 1775.9 L301.1 1776 L304.1 1776.2 L307.1 1776.3 L310.1 1776.4 L313.1 1776.6 L316.1 1776.7 L319.1 1776.8 L320.6 1776.9 L322.1 1777 L325.1 1777.1 L328.1 1777.3 L331.1 1777.5 L334.1 1777.7 L337.1 1777.9 L340.1 1778.1 L343.1 1778.3 L346.1 1778.6 L349.1 1778.8 L352.1 1779.1 L355.1 1779.3 L358.1 1779.6 L358.5 1779.6 L361.1 1779.8 L364.1 1780.1 L367.1 1780.4 L370.1 1780.6 L373.1 1780.9 L376.1 1781.2 L379.1 1781.5 L382.1 1781.8 L385.1 1782.2 L388.1 1782.5 L391.1 1782.8 L394.1 1783.2 L397.1 1783.5 L397.6 1783.6 L400.1 1783.9 L403.1 1784.3 L406.1 1784.7 L409.1 1785.2 L412.1 1785.6 L415.1 1786.1 L418.1 1786.5 L421.1 1787 L424.1 1787.5 L427.1 1788 L430.1 1788.5 L431.1 1788.6 L433.1 1789 L436.1 1789.4 L439.1 1789.9 L442.1 1790.4 L445.1 1790.9 L448.1 1791.4 L451.1 1792 L454.1 1792.5 L457.1 1793 L460.1 1793.5 L463.1 1794.1 L464.6 1794.3 L466.1 1794.6 L469.1 1795.1 L472.1 1795.7 L475.1 1796.2 L478.1 1796.8 L481.1 1797.4 L484.1 1797.9 L487.1 1798.5 L490.1 1799.1 L493.1 1799.7 L496.1 1800.3 L498.1 1800.7 L499.1 1800.9 L502.1 1801.5 L505.1 1802.1 L508.1 1802.7 L511.1 1803.4 L514.1 1804 L517.1 1804.6 L520.1 1805.3 L523.1 1805.9 L526.1 1806.6 L529.1 1807.2 L531.6 1807.7 L532.1 1807.8 L535.1 1808.5 L538.1 1809.1 L541.1 1809.7 L544.1 1810.3 L547.1 1811 L550.1 1811.6 L553.1 1812.2 L556.1 1812.9 L559.1 1813.5 L562.1 1814.1 L565 1814.8 L565.1 1814.8 L568.1 1815.4 L571.1 1816 L574.1 1816.6 L577.1 1817.3 L580.1 1817.9 L583.1 1818.5 L586.1 1819.1 L589.1 1819.8 L592.1 1820.4 L595.1 1821.1 L598.1 1821.7 L601.1 1822.4 L604.1 1823 L607.1 1823.7 L610.1 1824.4 L610.2 1824.5 L613.1 1825.1 L616.1 1825.9 L619.1 1826.6 L622.1 1827.3 L625.1 1828.1 L628.1 1828.8 L631.1 1829.6 L634.1 1830.4 L637.1 1831.2 L640.1 1832 L643.1 1832.9 L646.1 1833.7 L648.7 1834.5 L649.1 1834.6 L652.1 1835.5 L655.1 1836.4 L658.1 1837.3 L661.1 1838.3 L664.1 1839.3 L667.1 1840.3 L670.1 1841.4 L672.2 1842.2 L673.1 1842.6 L676.1 1843.8 L679.1 1845.1 L682.1 1846.4 L685.1 1847.8 L688.1 1849.2 L691.1 1850.7 L692.3 1851.2 L694.1 1852.1 L697.1 1853.7 L700.1 1855.2 L703.1 1856.8 L706.1 1858.4 L709.1 1860 L712.1 1861.5 L712.4 1861.6 L715.1 1863 L718.1 1864.5 L721.1 1866 L724.1 1867.5 L727.1 1868.9 L730.1 1870.3 L732.4 1871.3 L733.1 1871.6 L736.1 1872.9 L739.1 1874.2 L742.1 1875.5 L745.1 1876.6 L748.1 1877.7 L749.2 1878 L751.1 1878.6 L754.1 1879.5 L757.1 1880.3 L760.1 1881 L763.1 1881.7 L765.9 1882.4 L766.1 1882.4 L768.4 1882.9 L769.1 1883 L772.1 1883.7 L775.1 1884.3 L776.7 1884.6 L778.1 1884.7 L781.1 1884.9 L784.1 1885.2 L787.1 1885.4 L790.1 1885.5 L793.1 1885.6 L796.1 1885.7 L796.3 1885.7 L799.1 1885.6 L802.1 1885.5 L805.1 1885.3 L808.1 1885.1 L811.1 1884.9 L814.1 1884.7 L815.8 1884.6 L817.1 1884.5 L820.1 1884.2 L823.1 1883.9 L826.1 1883.7 L829.1 1883.4 L832.1 1883.2 L835.1 1883.2 L835.3 1883.2 L838.1 1883.2 L841.1 1883.3 L844.1 1883.4 L847.1 1883.6 L850.1 1883.8 L852.1 1884 L853.1 1884.1 L856.1 1884.5 L859.1 1885.2 L862.1 1885.9 L865.1 1886.8 L866 1887.1 L868.1 1887.8 L871.1 1889.1 L874.1 1890.6 L877.1 1892.3 L880 1894 L880.1 1894.1 L883.1 1896.3 L886.1 1898.7 L889.1 1901.5 L892.1 1904.3 L893.9 1906 L895.1 1907.2 L898.1 1910.3 L901.1 1913.5 L904.1 1916.8 L907.1 1920 L907.9 1920.8 L910.1 1923.2 L913.1 1926.3 L916.1 1929.5 L919.1 1932.6 L921.8 1935.3 L922.1 1935.6 L925.1 1938.5 L928.1 1941.3 L931.1 1944 L934.1 1946.8 L937.1 1949.5 L940.1 1952.5 L942.5 1954.9 L943.1 1955.5 L946.1 1958.7 L949.1 1962 L952.1 1965.4 L955.1 1969.1 L958.1 1973 L958.1 1973 L961.1 1977.4 L964.1 1982.2 L967.1 1987.3 L969.3 1991.1 L970.1 1992.7 L973.1 1998.5 L976.1 2004.6 L979.1 2010.8 L980.4 2013.5 L982.1 2016.9 L985.1 2023.2 L988.1 2029.3 L991.1 2035 L991.6 2035.8 L994.1 2040 L997.1 2044.8 L1000.1 2049.1 L1002.7 2052.5 L1003.1 2053 L1006.1 2056.5 L1009.1 2059.8 L1012.1 2062.7 L1013.9 2064.2 L1015.1 2065.2 L1018.1 2067.4 L1021.1 2069.4 L1024.1 2071.2 L1027.1 2073 L1027.9 2073.4 L1030.1 2074.8 L1033.1 2076.4 L1036.1 2077.9 L1039.1 2079.5 L1042.1 2081 L1044.6 2082.4 L1045.1 2082.7 L1048.1 2084.4 L1051.1 2086.1 L1054.1 2087.9 L1057.1 2089.6 L1060.1 2091.4 L1061.3 2092.1 L1063.1 2093.2 L1066.1 2095.1 L1069.1 2097 L1072.1 2098.8 L1075.1 2100.4 L1075.3 2100.5 L1078.1 2101.9 L1081.1 2103.3 L1084.1 2104.5 L1087.1 2105.5 L1089.2 2106.1 L1090.1 2106.3 L1093.1 2106.9 L1096.1 2107.4 L1099.1 2107.8 L1102.1 2108.2 L1103.2 2108.3 L1105.1 2108.6 L1108.1 2108.9 L1111.1 2109.2 L1114.1 2109.5 L1117.1 2109.8 L1119.9 2110.3 L1120.1 2110.3 L1123.1 2111 L1126.1 2112 L1129.1 2113.1 L1132.1 2114.5 L1133.9 2115.3 L1135.1 2116 L1138.1 2118 L1141.1 2120.3 L1144.1 2122.9 L1145 2123.7 L1147.1 2125.6 L1150.1 2128.8 L1153.1 2132 L1156.1 2134.8 L1156.2 2134.8 L1159.1 2137.2 L1162.1 2139.4 L1165.1 2141.3 L1167.4 2142.4 L1168.1 2142.7 L1171.1 2143.7 L1174.1 2144.5 L1175.7 2144.6 L1177.1 2144.6 L1180.1 2144.5 L1183.1 2144.3 L1186.1 2144.1 L1186.9 2144 L1189.1 2143.9 L1192.1 2143.6 L1195.1 2143.3 L1198.1 2143.2 L1198.1 2143.2 L1201.1 2143.7 L1204.1 2144.8 L1207.1 2146.3 L1209.2 2147.4 L1210.1 2147.9 L1213.1 2150.3 L1216.1 2153.2 L1219.1 2156.1 L1220.4 2157.2 L1222.1 2158.6 L1225.1 2161.1 L1228.1 2163.4 L1231.1 2165.3 L1231.5 2165.5 L1234.1 2166.8 L1237.1 2168 L1240.1 2169.1 L1243.1 2170.2 L1245.5 2171.1 L1246.1 2171.4 L1249.1 2172.8 L1252.1 2174.3 L1255.1 2175.6 L1258 2176.7 L1258.1 2176.7 L1260.1 2177.2 L1261.1 2177.5 L1264.1 2178.6 L1267.1 2179.8 L1270.1 2180.9 L1270.2 2180.9 L1273.1 2181.7 L1276.1 2182.5 L1278.5 2182.7 L1279.1 2182.7 L1282.1 2182.6 L1285.1 2182.2 L1285.2 2182.2 L1288.1 2181 L1291.1 2178.9 L1291.1 2178.8 L1294.1 2175.4 L1296.1 2172.2 L1297.1 2169.9 L1300.1 2160.9 L1300.3 2160.4 L1303.1 2151.2 L1304.5 2147.1 L1306.1 2142.4 L1308.7 2137 L1309.1 2136.4 L1312.1 2134 L1312.4 2134 L1315.2 2135.8 L1316.2 2137 L1318.2 2140.7 L1321.2 2148.5 L1321.2 2148.7 L1324.2 2155 L1327.1 2160.4 L1327.2 2160.5 L1330.2 2165 L1333 2168 L1333.2 2168.1 L1336.2 2169.8 L1337.1 2170 L1339.2 2169.4 L1342.2 2167.2 L1342.2 2167.1 L1345.2 2160.7 L1346.4 2157.1 L1348.2 2150.3 L1350.5 2140.4 L1351.2 2138.1 L1354.2 2127.9 L1355.6 2123.6 L1357.2 2119.2 L1360.2 2111.8 L1362.3 2106.9 L1363.2 2104.8 L1366.2 2097.9 L1369 2092.6 L1369.2 2092.3 L1372.2 2088.3 L1374 2086.8 L1375.2 2086.1 L1377.3 2085.4 L1378.2 2085.6 L1380.7 2087.6 L1381.2 2088.2 L1384.2 2094.9 L1384.9 2096.8 L1387.2 2105.2 L1389 2113.6 L1390.2 2119 L1393.2 2135 L1393.2 2135.3 L1396.2 2151.1 L1397.4 2157.1 L1399.2 2164.3 L1402.2 2174.7 L1402.4 2175.5 L1405.2 2182.5 L1407.5 2187.2 L1408.2 2188.5 L1411.2 2192.9 L1412.5 2194.8 L1414.2 2197.1 L1417.2 2201 L1419.2 2204 L1420.2 2205.7 L1423.2 2212 L1425 2215.7 L1426.2 2217.9 L1429.2 2223.1 L1430.1 2224.1 L1432.2 2225.4 L1433.4 2225.7 L1435.2 2224.2 L1437.6 2219 L1438.2 2217.2 L1441.2 2201.5 L1441.8 2199 L1444.2 2191 L1446 2187.2 L1447.2 2185.9 L1450.2 2183.9 L1450.6 2183.9 L1453.2 2185.8 L1455.2 2188.9 L1456.2 2191.2 L1459.2 2202.7 L1460.2 2207.3 L1462.2 2218.4 L1464.4 2230.8 L1465.2 2234.5 L1466.9 2240 L1468.2 2236.7 L1470.2 2224.1 L1471.2 2216.6 L1473.6 2193.9 L1474.2 2190 L1476.1 2180.5 L1477.2 2178.9 L1479.4 2177.2 L1480.2 2177.6 L1482.8 2183.9 L1483.2 2185.5 L1486.1 2210.7 L1486.2 2210.9 L1489.2 2234.1 L1489.5 2235.8 L1492.2 2245 L1495.6 1366 L1499.5 1384.6 L1502.9 1401.5 L1508 1410 L1516.4 1415.9 L1522.4 1423.5 L1528.3 1434.5 L1533.4 1437.9 L1538.4 1431.1 L1541.8 1427.7 L1546.9 1435.4 L1552 1447.2 L1557.1 1459.1 L1563.8 1467.5 L1569.7 1462.4 L1572.3 1447.2 L1575.7 1425.2 L1579.9 1401.5 L1583.3 1388 L1588.4 1383.8 L1593.4 1390.5 L1596.8 1391.7 L1602.7 1387.1 L1607.8 1382.9 L1612.9 1393.1 L1616.3 1418.4 L1618.8 1448.9 L1621.4 1477.7 L1625.6 1491.2 L1630.7 1490.4 L1633.2 1511.5 L1634.9 1520.8 L1638.3 1503 L1640.8 1452.3 L1642.5 1401.5 L1643.7 1372.8 L1647.6 1369.4 L1648.4 1401.5 L1658.1 1960 L1658.9 2112.3 L1661.5 2163 L1664 2178.3 L1668.2 2163 L1672.5 2129.2 L1675.8 2095.4 L1680.9 2082.7 L1683.5 2112.3 L1686.8 2146.1 L1691.1 2180 L1694.5 2213.8 L1697.8 2235 L1701.2 2213.8 L1704.6 2180 L1706.3 2174.9 L1709.7 2188.4 L1713.1 2213.8 L1716.4 2239.2 L1718.1 2246 L1722.5 1369.1 L1726.4 1391.1 L1729.8 1404.6 L1734 1408.8 L1739.9 1409.7 L1742.5 1424.9 L1745.8 1446.9 L1748.4 1457.1 L1752.6 1438.4 L1755.7 1421.5 L1757.7 1438.4 L1760.2 1447.7 L1763.6 1449.4 L1767.8 1443.5 L1772.9 1441.8 L1774.6 1428.3 L1777.1 1413.9 L1779.7 1428.3 L1782.2 1455.4 L1784.8 1480.7 L1787.3 1506.1 L1789.8 1528.1 L1792.4 1545 L1794.1 1551.8 L1797.4 1538.3 L1801.7 1534 L1805.1 1548.4 L1808.4 1565.3 L1811.8 1584 L1816.1 1606 L1818.9 1622.9 L1821.1 1599.2 L1823.7 1556.9 L1825.4 1523 L1827.9 1501.9 L1829.6 1540 L1830.4 1590.7 L1832.1 1624.6 L1834.7 1649.9 L1836.4 1660.9 L1839.7 1641.5 L1844 1633.9 L1846.5 1646.6 L1849.1 1649.9 L1853.3 1644.9 L1855 1624.6 L1856.7 1612.7 L1859.2 1633 L1860.9 1624.6 L1862.6 1599.2 L1865.1 1595.8 L1866.8 1624.6 L1869 1696.5 L1873 1665 L1877 1705 L1881 1725 L1885 1765 L1890.3 1827.7 L1894.4 1764.2 L1902.8 1968.5 L1909 1700 L1911.5 1638 L1913.5 1518 L1915.7 1464.4 L1917.5 1566 L1919 1663 L1923.4 1949.6 L1930 1800 L1933 1735 L1936.2 1640.9 L1940.3 1687 L1944 1735 L1947.6 1754.5 L1951.2 1742.5 L1953.6 1800 L1965.7 2114.2 L1973.7 1746.1 L1978.2 2041.3 L1990.8 1840 L1998.3 1986 L2004.6 1790 L2007.1 1509.6 L2012.2 2160.7 L2019 1900 L2029.8 2147 L2037.3 2016.2 L2041 2169.5 L2047.4 1700 L2049.2 1400 L2057.4 2031.3 L2066.1 1578.3 L2073.7 2194.7 L2079.6 1400 L2085.4 1505.7 L2090.1 2174.6 L2099.9 1670 L2104 2040 L2107 1800 L2112 2250" stroke="#0072bd" stroke-width="6.25"/>
<path d="M190 1775.6 L193.1 1775.5 L196.1 1775.4 L199.1 1775.3 L202.1 1775.3 L205.1 1775.2 L208.1 1775.1 L211.1 1775.1 L214.1 1775.1 L217.1 1775 L220.1 1775 L223.1 1775 L226.1 1774.9 L229.1 1774.9 L232.1 1774.9 L235.1 1774.9 L238.1 1774.9 L241.1 1774.9 L241.9 1774.9 L244.2 1774.9 L247.2 1774.9 L250.2 1775 L253.2 1775 L256.2 1775.1 L259.2 1775.1 L262.2 1775.2 L265.2 1775.3 L268.2 1775.4 L271.2 1775.5 L274.2 1775.6 L277.2 1775.7 L280.2 1775.8 L283.2 1775.9 L283.8 1775.9 L286.2 1776 L289.2 1776.1 L292.3 1776.3 L295.3 1776.5 L298.3 1776.6 L301.3 1776.8 L304.3 1777.1 L307.3 1777.3 L310.3 1777.5 L313.3 1777.7 L316.3 1778 L319.3 1778.2 L322.3 1778.5 L324 1778.6 L325.3 1778.7 L328.3 1779 L331.3 1779.2 L334.3 1779.5 L337.3 1779.8 L340.4 1780 L343.4 1780.3 L346.4 1780.6 L349.4 1781 L352.4 1781.3 L355.4 1781.6 L358.4 1782 L361.4 1782.4 L364.4 1782.8 L365.8 1782.9 L367.4 1783.2 L370.4 1783.6 L373.4 1784.1 L376.4 1784.6 L379.4 1785.1 L382.4 1785.7 L385.4 1786.3 L388.4 1786.9 L391.5 1787.5 L394.5 1788.2 L397.5 1788.8 L400.5 1789.5 L403.5 1790.1 L406 1790.6 L406.5 1790.8 L409.5 1791.4 L412.5 1792.1 L415.5 1792.8 L418.5 1793.5 L421.5 1794.2 L424.5 1794.9 L427.5 1795.6 L430.5 1796.4 L433.5 1797.1 L436.5 1797.9 L439.6 1798.7 L442.6 1799.4 L445.6 1800.2 L446.2 1800.4 L448.6 1801 L451.6 1801.8 L454.6 1802.5 L457.6 1803.3 L460.6 1804.1 L463.6 1805 L466.6 1805.8 L469.6 1806.6 L472.6 1807.4 L475.6 1808.3 L478.6 1809.2 L481.6 1810 L484.6 1810.9 L486.4 1811.4 L487.7 1811.8 L490.7 1812.7 L493.7 1813.6 L496.7 1814.6 L499.7 1815.5 L502.7 1816.5 L505.7 1817.5 L508.7 1818.5 L511.7 1819.5 L514.7 1820.5 L517.7 1821.5 L520.7 1822.4 L523.7 1823.4 L524.9 1823.8 L526.7 1824.4 L529.7 1825.4 L532.7 1826.3 L535.8 1827.3 L538.8 1828.3 L541.8 1829.3 L544.8 1830.2 L547.8 1831.2 L550.8 1832.2 L553.8 1833.2 L556.8 1834.1 L559.8 1835.1 L562.8 1836.1 L565 1836.9 L565.8 1837.1 L568.8 1838.1 L571.8 1839.1 L574.8 1840 L577.8 1841 L580.8 1842 L583.8 1842.9 L586.9 1843.9 L589.9 1844.9 L592.9 1845.9 L595.9 1846.9 L598.9 1848 L601.9 1849.1 L604.2 1849.9 L604.9 1850.2 L607.9 1851.3 L610.9 1852.4 L613.9 1853.5 L616.9 1854.7 L619.9 1855.8 L622.9 1857 L625.9 1858.3 L628.9 1859.5 L631.9 1860.9 L635 1862.2 L638 1863.6 L641 1865.1 L642 1865.6 L644 1866.6 L647 1868.3 L650 1870 L653 1871.8 L656 1873.6 L659 1875.6 L662 1877.6 L665 1879.6 L668 1881.7 L671 1883.9 L674 1886.1 L677 1888.3 L677.2 1888.4 L680 1890.6 L683.1 1893 L686.1 1895.5 L689.1 1898.1 L692.1 1900.7 L695.1 1903.4 L698.1 1906.2 L701.1 1908.9 L704.1 1911.7 L707.1 1914.4 L708 1915.2 L710.1 1917.1 L713.1 1919.9 L716.1 1922.7 L719.1 1925.5 L722.1 1928.4 L725.1 1931.3 L728.1 1934.1 L731.1 1936.9 L734.2 1939.6 L737.2 1942.2 L738.5 1943.3 L740.2 1944.7 L743.2 1947.2 L746.2 1949.7 L749.2 1952.1 L752.2 1954.4 L755.2 1956.7 L758.2 1959 L761.2 1961.3 L764.2 1963.5 L767.2 1965.7 L770.2 1967.9 L771 1968.4 L773.2 1970.1 L776.2 1972.2 L779.2 1974.2 L782.3 1976.3 L785.3 1978.3 L788.3 1980.3 L791.3 1982.3 L794.3 1984.2 L797.3 1986.2 L800.3 1988.2 L803.3 1990.2 L804.6 1991.1 L806.3 1992.3 L809.3 1994.5 L812.3 1996.7 L815.3 1999.1 L818.3 2001.4 L821.3 2003.7 L824.3 2006 L827.3 2008.1 L830.4 2010.1 L833.4 2011.9 L836.4 2013.5 L839.4 2014.8 L839.5 2014.9 L842.4 2015.9 L845.4 2017.1 L848.4 2018.2 L851.4 2019.2 L854.4 2020.2 L857.4 2021.1 L860.4 2021.8 L863.4 2022.5 L866.4 2022.9 L869.4 2023.2 L871.6 2023.2 L872.4 2023.2 L875.4 2022.8 L878.4 2022.2 L880 2021.8 L881.5 2021.5 L884.5 2020.6 L887.5 2019.5 L889.7 2018.5 L890.5 2018.1 L893.5 2016.3 L896.5 2014 L899.5 2011.4 L902.5 2008.4 L905.5 2005.2 L908.5 2002 L911.5 1998.7 L912.1 1998.1 L914.5 1995.3 L917.5 1991.5 L920.5 1987.5 L923.5 1983.2 L926.5 1978.9 L929.6 1974.7 L932.6 1970.5 L935.6 1966.6 L937.2 1964.6 L938.6 1963 L941.6 1959.2 L944.6 1955.5 L947.6 1952 L950.6 1948.8 L953.6 1946.2 L955.3 1945.1 L956.6 1944.3 L959.6 1942.6 L962.6 1941.3 L965.1 1940.9 L965.6 1940.9 L968.6 1941.3 L971.6 1942 L974.6 1943.1 L976.2 1943.7 L977.7 1944.5 L980.7 1947.7 L983.7 1952.2 L986.7 1957.7 L989.7 1963.4 L992.7 1968.9 L994.4 1971.6 L995.7 1973.6 L998.7 1978.4 L1001.7 1983.3 L1004.7 1988.1 L1007.7 1992.4 L1010.7 1996.3 L1011.1 1996.7 L1013.7 1999.5 L1016.7 2002.4 L1019.5 2004.5 L1019.7 2004.7 L1022.7 2006.5 L1025.7 2008 L1028.8 2009.1 L1029.3 2009.3 L1031.8 2010.1 L1034.8 2010.9 L1037.8 2011.5 L1039 2011.5 L1040.8 2011.4 L1043.8 2010.6 L1046.8 2009.5 L1047.4 2009.3 L1049.8 2008.3 L1052.8 2006.7 L1055.8 2004.8 L1058.8 2002.8 L1061.8 2000.7 L1064.8 1998.6 L1065.5 1998.1 L1067.8 1996.4 L1070.8 1993.9 L1073.8 1991.3 L1076.9 1989 L1079.9 1987.3 L1080.9 1987 L1082.9 1986.4 L1085.9 1985.5 L1088.9 1985 L1091.9 1984.7 L1092 1984.7 L1094.9 1984.9 L1097.9 1985.5 L1100.9 1986.3 L1103.2 1987 L1103.9 1987.2 L1106.9 1988.6 L1109.9 1990.5 L1112.9 1992.8 L1115.9 1995.6 L1118.9 1998.5 L1119.9 1999.5 L1121.9 2001.8 L1125 2005.8 L1128 2010.6 L1131 2016 L1131.1 2016.2 L1134 2022.7 L1137 2030.8 L1140 2039.3 L1142.3 2045.5 L1143 2047.5 L1146 2056 L1149 2064.4 L1152 2071.9 L1153.4 2074.8 L1155 2077.8 L1158 2082.9 L1161 2087.4 L1164 2091 L1164.6 2091.6 L1167 2094 L1170 2096.6 L1173.1 2099 L1176.1 2101.1 L1179.1 2102.9 L1181.3 2104.1 L1182.1 2104.5 L1185.1 2105.8 L1188.1 2106.8 L1191.1 2107.7 L1194.1 2108.7 L1197.1 2109.8 L1200.1 2111.3 L1200.8 2111.7 L1203.1 2113.3 L1206.1 2116.4 L1209.1 2120 L1212.1 2123.6 L1214.8 2126.5 L1215.1 2126.8 L1218.1 2129.8 L1221.1 2132.7 L1224.2 2135.2 L1226 2136.2 L1227.2 2136.8 L1230.2 2138.1 L1233.2 2138.9 L1234.3 2139 L1236.2 2138.8 L1239.2 2137.8 L1242.2 2136.2 L1245.2 2134.2 L1248.2 2132.1 L1248.3 2132 L1251.2 2129.3 L1254.2 2125.9 L1257.2 2122.9 L1258 2122.3 L1260.2 2121 L1263.2 2119.6 L1266 2118.6 L1266.2 2118.5 L1269.2 2117.4 L1272.3 2116.5 L1275.2 2116.1 L1275.3 2116.1 L1278.3 2116.4 L1281.3 2117.2 L1284.3 2118.2 L1285.2 2118.6 L1287.3 2119.4 L1290.3 2121.1 L1293.3 2123.2 L1296.3 2125.6 L1299.3 2128.1 L1302.3 2130.7 L1302.8 2131.1 L1305.3 2133.6 L1308.3 2137 L1311.3 2140.5 L1314.3 2143.7 L1316.2 2145.4 L1317.3 2146.3 L1320.4 2148.6 L1323.4 2150.8 L1326.4 2152.8 L1329.4 2154.6 L1332.4 2156 L1335.4 2157.1 L1335.5 2157.1 L1338.4 2157.9 L1341.4 2158.4 L1342.2 2158.4 L1344.4 2157 L1347.4 2152.3 L1350.4 2147.8 L1351.4 2147.1 L1353.4 2145.9 L1356.4 2144.8 L1358.1 2144.5 L1359.4 2144.8 L1362.4 2147.2 L1365.4 2151.2 L1368.1 2155.4 L1368.4 2156 L1371.5 2165.2 L1374.5 2174.8 L1374.8 2175.5 L1377.5 2180.1 L1380.5 2184.2 L1383.5 2187.8 L1386.5 2191.2 L1387.4 2192.3 L1389.5 2194.8 L1392.5 2198.2 L1395.5 2201.5 L1398.5 2204.8 L1400.8 2207.3 L1401.5 2208.2 L1404.5 2211.6 L1407.5 2215 L1410.5 2218.4 L1413.5 2221.7 L1415 2223.2 L1416.5 2224.8 L1419.6 2227.7 L1422.6 2230.5 L1425.6 2233.5 L1428.6 2236.7 L1429.2 2237.5 L1431.6 2240.4 L1434.6 2244.6 L1437.6 2249.2 L1442 1349.4 L1443.7 1349.1 L1455.5 1354.1 L1470.8 1356.7 L1480.9 1374.5 L1487.7 1376.1 L1494.5 1365.1 L1502.9 1349.1 L1504.6 1348.2 L1512.2 1368.5 L1517.3 1379.5 L1524.1 1378.7 L1530 1372.8 L1533.4 1374.5 L1538.4 1393.1 L1541.8 1415.1 L1550.3 1432.8 L1556.2 1448.9 L1568.9 1444.2 L1575.7 1454.8 L1580.7 1464.1 L1585 1463.3 L1590.9 1443.8 L1593.4 1422.7 L1597.7 1403.2 L1599.4 1381.2 L1604.4 1361.8 L1607 1360.1 L1610.4 1369.4 L1614.6 1389.7 L1616.3 1410.8 L1620.5 1431.1 L1623 1451.4 L1626.4 1471.7 L1630.7 1492 L1634.9 1512.4 L1636.6 1533.5 L1640 1547.9 L1645 1543.7 L1645.9 1521.7 L1651 1509.8 L1656 1513.2 L1660.3 1503 L1663.7 1482.7 L1666.2 1466.7 L1668.7 1463.3 L1673.8 1485.3 L1675.5 1506.4 L1678 1526.7 L1678.5 1547.9 L1680.6 1568.2 L1681.4 1589.3 L1685.7 1608 L1688.5 2251 L1694 1457 L1701.2 2173 L1703 2177 L1711.4 2163 L1716 2200 L1722.4 2247.6 L1728.3 2180 L1730.8 2124 L1733.4 2193.5 L1736 2240 L1741 2220 L1744.4 2213.8 L1747.2 1800 L1748.4 1372 L1750.5 1354 L1753 1362 L1757.7 1396 L1761 1410 L1772 1365 L1776.3 1411 L1785.6 1430 L1793.2 1418 L1800 1397 L1806.8 1433.4 L1811 1452 L1811.8 1474 L1815.2 1493.4 L1816.1 1514.6 L1819.5 1534.9 L1825.4 1543.4 L1830.4 1562 L1832.1 1584 L1834.7 1602.6 L1837.2 1622.9 L1837.6 1585.7 L1839.7 1565.3 L1840 1545 L1841.4 1524.7 L1844.8 1456 L1845.7 1497.7 L1847.4 1518 L1847.8 1540 L1849 1559.4 L1850.7 1581.4 L1853.3 1600.9 L1855 1622.9 L1857.5 1650 L1861.8 1663 L1865.4 1626 L1871.4 1667 L1878.7 1631 L1882.3 1692 L1886 1730 L1890.8 1663 L1895.6 1648 L1898 1709 L1900.4 1750 L1905.3 1776 L1913.7 1745 L1922.2 1790 L1925 1800 L1933 1960 L1939.3 2000 L1945 2080 L1948 2152 L1953 1345 L1960.6 2190 L1966 2050 L1973.6 1881 L1981.4 1340 L1986 2080 L1990.5 1880 L1997 1990 L2003 2125 L2008.5 1335 L2014 2170 L2019.6 1690 L2024 2228 L2031 1833 L2036 1606 L2040.9 1525 L2050.6 1840 L2054 2100 L2057 1905 L2061 1860 L2066 2140 L2071 1840 L2076 2100 L2080 1930 L2083 2060 L2086.6 1700 L2091.5 2160 L2097 1900 L2104 2187 L2109 1800 L2111.5 1350" stroke="#d95319" stroke-width="6.25" stroke-dasharray="22.1 19.2"/>
</g>
<path d="M229.5 1295.5v10M229.5 2302.5v-10M277.5 1295.5v10M277.5 2302.5v-10M320.5 1295.5v10M320.5 2302.5v-10M610.5 1295.5v10M610.5 2302.5v-10M757.5 1295.5v10M757.5 2302.5v-10M861.5 1295.5v10M861.5 2302.5v-10M942.5 1295.5v10M942.5 2302.5v-10M1008.5 1295.5v10M1008.5 2302.5v-10M1064.5 1295.5v10M1064.5 2302.5v-10M1112.5 1295.5v10M1112.5 2302.5v-10M1155.5 1295.5v10M1155.5 2302.5v-10M1445.5 1295.5v10M1445.5 2302.5v-10M1592.5 1295.5v10M1592.5 2302.5v-10M1696.5 1295.5v10M1696.5 2302.5v-10M1777.5 1295.5v10M1777.5 2302.5v-10M1844.5 1295.5v10M1844.5 2302.5v-10M1899.5 1295.5v10M1899.5 2302.5v-10M1948.5 1295.5v10M1948.5 2302.5v-10M1991.5 1295.5v10M1991.5 2302.5v-10M358.5 1295.5v20M358.5 2302.5v-20M1193.5 1295.5v20M1193.5 2302.5v-20M2029.5 1295.5v20M2029.5 2302.5v-20M189.5 1421.5h20M2112.5 1421.5h-20M189.5 1547.5h20M2112.5 1547.5h-20M189.5 1673.5h20M2112.5 1673.5h-20M189.5 1799.5h20M2112.5 1799.5h-20M189.5 1924.5h20M2112.5 1924.5h-20M189.5 2050.5h20M2112.5 2050.5h-20M189.5 2176.5h20M2112.5 2176.5h-20" stroke="#262626" stroke-width="1" fill="none"/>
<rect x="189.5" y="1295.5" width="1923" height="1007" fill="none" stroke="#262626" stroke-width="1"/>
<text x="175.4" y="1311.5" text-anchor="end" font-size="41" fill="#262626">200</text>
<text x="175.4" y="1437.5" text-anchor="end" font-size="41" fill="#262626">150</text>
<text x="175.4" y="1563.5" text-anchor="end" font-size="41" fill="#262626">100</text>
<text x="175.4" y="1689.5" text-anchor="end" font-size="41" fill="#262626">50</text>
<text x="175.4" y="1815.5" text-anchor="end" font-size="41" fill="#262626">0</text>
<text x="175.4" y="1940.5" text-anchor="end" font-size="41" fill="#262626">-50</text>
<text x="175.4" y="2066.5" text-anchor="end" font-size="41" fill="#262626">-100</text>
<text x="175.4" y="2192.5" text-anchor="end" font-size="41" fill="#262626">-150</text>
<text x="175.4" y="2318.5" text-anchor="end" font-size="41" fill="#262626">-200</text>
<text x="326" y="2368.8" font-size="41" fill="#262626">10<tspan dy="-21" dx="1.5" font-size="31">2</tspan></text>
<text x="1161" y="2368.8" font-size="41" fill="#262626">10<tspan dy="-21" dx="1.5" font-size="31">3</tspan></text>
<text x="1997" y="2368.8" font-size="41" fill="#262626">10<tspan dy="-21" dx="1.5" font-size="31">4</tspan></text>
<text transform="translate(72 1799.5) rotate(-90)" text-anchor="middle" font-size="55" fill="#262626">Phase (deg)</text>
<rect x="1924.5" y="1316.5" width="167" height="146" fill="#fff" stroke="#262626" stroke-width="1"/>
<line x1="1932.1" y1="1355" x2="2010.1" y2="1355" stroke="#0072bd" stroke-width="6.25"/>
<path d="M1932.1 1424h22M1973.1 1424h22" stroke="#d95319" stroke-width="6.25"/>
<text x="2016.2" y="1376.2" font-size="54" fill="#000">(1)</text>
<text x="2016.2" y="1445.5" font-size="54" fill="#000">(2)</text>
<text x="1151" y="2440.2" text-anchor="middle" font-size="55" fill="#262626">Frequency (rad/s)</text>
</svg>
</body></html>
